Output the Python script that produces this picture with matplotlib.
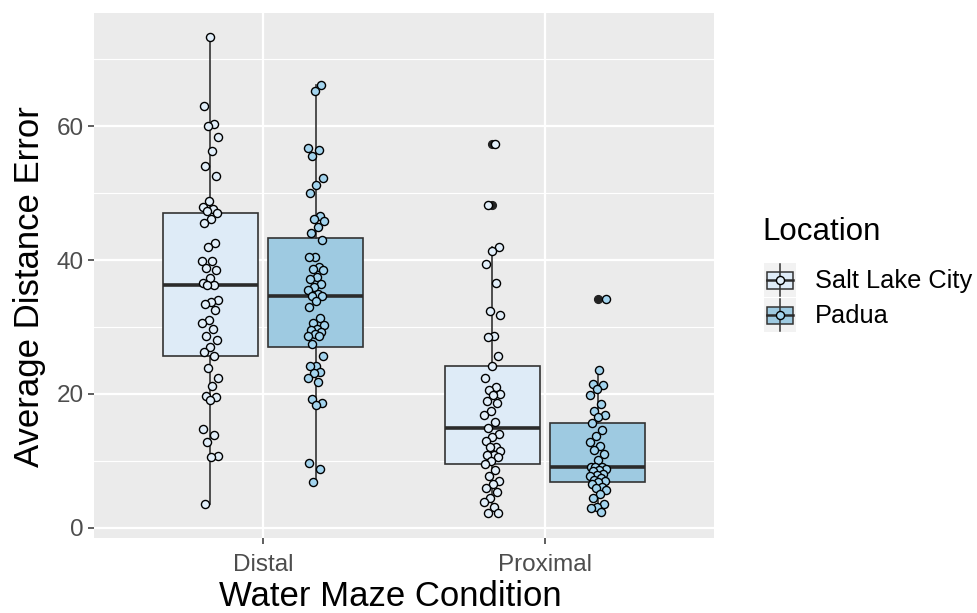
import numpy as np
import matplotlib
matplotlib.use("Agg")
import matplotlib.pyplot as plt
from matplotlib.patches import Rectangle

plt.rcParams['font.family'] = ['Liberation Sans', 'DejaVu Sans']

conditions = ["Distal", "Proximal"]
locations = ["Salt Lake City", "Padua"]
box_colors = ["#deebf7", "#9ecae1"]
point_colors = ["#e2effa", "#a3d4ee"]

slc_distal = [73.3, 63.0, 60.4, 60.1, 58.4, 56.3, 54.1, 52.5, 48.8, 48.0, 47.6, 47.4, 47.0,
              46.2, 45.5, 42.6, 41.9, 39.9, 39.8, 38.8, 38.5, 37.3, 36.5, 36.3, 36.3, 34.0,
              33.8, 33.5, 32.5, 31.0, 30.6, 29.7, 28.6, 28.0, 27.0, 26.2, 25.7, 23.8, 22.4,
              21.2, 19.7, 19.5, 19.1, 14.7, 13.8, 12.8, 10.7, 10.5, 3.6]
padua_distal = [66.2, 65.2, 56.7, 56.4, 55.5, 52.2, 51.2, 50.0, 46.6, 46.2, 45.9, 44.9, 44.0,
                43.0, 40.5, 40.4, 38.9, 38.6, 38.5, 37.4, 37.1, 36.4, 36.0, 35.5, 35.0, 34.6,
                34.6, 33.9, 33.0, 31.3, 30.6, 30.3, 29.7, 29.6, 29.2, 28.9, 28.7, 28.6, 27.5,
                25.6, 24.1, 24.1, 23.3, 23.1, 22.3, 21.8, 19.2, 18.7, 18.3, 9.6, 8.7, 6.8]
slc_proximal = [57.4, 48.2, 41.9, 41.4, 39.4, 36.5, 32.4, 31.8, 28.7, 28.5, 25.7, 24.2, 22.3,
                21.0, 20.6, 20.0, 19.8, 19.0, 18.7, 17.5, 16.8, 15.8, 14.9, 14.0, 13.6, 13.0,
                12.0, 12.0, 11.5, 10.9, 10.9, 10.5, 10.0, 9.5, 8.6, 7.7, 7.0, 6.5, 5.9, 5.4,
                4.5, 3.9, 3.1, 2.2, 2.2]
padua_proximal = [34.2, 23.6, 21.5, 21.3, 20.8, 19.8, 18.5, 17.5, 16.8, 16.6, 15.6, 14.6, 13.7,
                  12.8, 12.2, 11.6, 11.0, 10.1, 9.1, 9.1, 9.0, 8.8, 8.6, 8.4, 8.1, 7.9, 7.7,
                  7.4, 7.2, 7.0, 6.9, 6.5, 6.1, 5.9, 5.6, 5.1, 4.4, 3.6, 3.1, 2.9, 2.4]

groups = {
    ("Distal", "Salt Lake City"): slc_distal,
    ("Distal", "Padua"): padua_distal,
    ("Proximal", "Salt Lake City"): slc_proximal,
    ("Proximal", "Padua"): padua_proximal,
}

W, H = 978, 613
fig = plt.figure(figsize=(W / 100, H / 100), dpi=100)
ax = fig.add_axes([94 / W, 1 - 538.4 / H, 620 / W, 525.2 / H])
ax.set_facecolor("#EBEBEB")
for s in ax.spines.values():
    s.set_visible(False)

dodge = 0.1875
bw = 0.337
edge = "#333333"
for ci, cond in enumerate(conditions):
    for li, loc in enumerate(locations):
        vals = np.array(groups[(cond, loc)])
        pos = ci + 1 + (li - 0.5) * 2 * dodge
        ax.boxplot(vals, positions=[pos], widths=bw, patch_artist=True, whis=1.5,
                   showcaps=False, manage_ticks=False,
                   boxprops=dict(facecolor=box_colors[li], edgecolor=edge, linewidth=1.2),
                   whiskerprops=dict(color=edge, linewidth=1.2),
                   medianprops=dict(color="#2b2b2b", linewidth=2.6),
                   flierprops=dict(marker="o", markerfacecolor="#222222", markeredgecolor="#222222",
                                   markersize=5.6),
                   zorder=2)
        n = len(vals)
        jit = ((np.arange(n) * 0.618034 + 0.5 + 0.31 * li + 0.17 * ci) % 1 - 0.5) * 2 * 0.03
        ax.scatter(pos + jit, vals, s=34, facecolor=point_colors[li], edgecolor="black",
                   linewidths=1.0, zorder=4)

ax.set_xlim(0.4, 2.6)
ax.set_ylim(-1.6, 76.9)
ax.set_yticks([0, 20, 40, 60])
ax.set_yticks([10, 30, 50, 70], minor=True)
ax.set_xticks([1, 2])
ax.set_xticklabels(conditions)
ax.grid(True, which="major", color="white", linewidth=1.6, zorder=0)
ax.grid(True, which="minor", axis="y", color="white", linewidth=0.8, zorder=0)
ax.set_axisbelow(True)
ax.tick_params(axis="both", which="major", length=4.5, width=1.1, color="#333333",
               labelsize=17.5, labelcolor="#4D4D4D", pad=3)
ax.tick_params(axis="x", which="major", pad=7)
ax.tick_params(axis="both", which="minor", length=0)
ax.set_xlabel("Water Maze Condition", fontsize=25, color="black")
ax.set_ylabel("Average Distance Error", fontsize=25, color="black")
ax.xaxis.set_label_coords((390 - 94) / 620, -(597 - 538.4) / 525.2)
ax.xaxis.label.set_va("center")
ax.yaxis.set_label_coords(-(94 - 30) / 620, (538.4 - 287) / 525.2)
ax.yaxis.label.set_va("center")

# legend drawn in pixel coordinates
lax = fig.add_axes([0, 0, 1, 1], zorder=5)
lax.set_xlim(0, W)
lax.set_ylim(H, 0)
lax.axis("off")
lax.text(762, 232, "Location", fontsize=22.5, va="center", ha="left", color="black")
for li, loc in enumerate(locations):
    cy = 280 + li * 35
    lax.add_patch(Rectangle((764, cy - 17), 32, 34, facecolor="#F2F2F2", edgecolor="none"))
    lax.plot([780, 780], [cy - 16, cy + 16], color=edge, lw=1.1)
    lax.add_patch(Rectangle((767, cy - 8.5), 26, 17, facecolor=box_colors[li], edgecolor=edge, lw=1.1))
    lax.plot([767, 793], [cy, cy], color="#2b2b2b", lw=1.8)
    lax.scatter([780], [cy], s=34, facecolor=point_colors[li], edgecolor="black", linewidths=1.0, zorder=6)
    lax.text(815, cy + 1, loc, fontsize=18.3, va="center", ha="left", color="black")

fig.savefig("out.png", dpi=100)
